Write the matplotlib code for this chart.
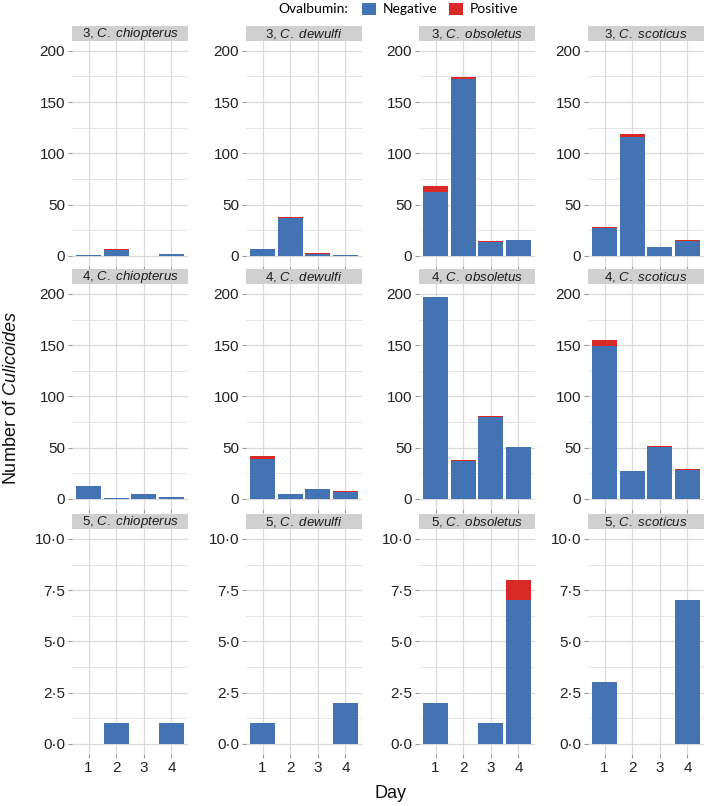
import matplotlib
matplotlib.use("Agg")
import matplotlib.pyplot as plt
from matplotlib.patches import Patch
from matplotlib.ticker import FixedLocator, FuncFormatter

plt.rcParams['font.family'] = ['Liberation Sans', 'DejaVu Sans']
plt.rcParams['mathtext.fontset'] = 'custom'
plt.rcParams['mathtext.rm'] = 'Liberation Sans'
plt.rcParams['mathtext.it'] = 'Liberation Sans:italic'

# ---- data ----
days = [1, 2, 3, 4]
traps = [3, 4, 5]
species = ['C. chiopterus', 'C. dewulfi', 'C. obsoletus', 'C. scoticus']

# rows: species order above, values per day 1..4
neg_trap3 = [[1, 6, 0, 2], [7, 37, 2, 1], [62, 172, 13, 15], [27, 116, 9, 14]]
pos_trap3 = [[0, 1, 0, 0], [0, 1, 1, 0], [6, 2, 1, 0], [1, 3, 0, 1]]
neg_trap4 = [[13, 1, 5, 2], [39, 5, 10, 7], [197, 37, 80, 51], [149, 27, 51, 28]]
pos_trap4 = [[0, 0, 0, 0], [3, 0, 0, 1], [0, 1, 1, 0], [6, 0, 1, 1]]
neg_trap5 = [[0, 1, 0, 1], [1, 0, 0, 2], [2, 0, 1, 7], [3, 0, 0, 7]]
pos_trap5 = [[0, 0, 0, 0], [0, 0, 0, 0], [0, 0, 0, 1], [0, 0, 0, 0]]

neg_all = [neg_trap3, neg_trap4, neg_trap5]
pos_all = [pos_trap3, pos_trap4, pos_trap5]

row_ymax = [200, 200, 10]
row_major = [[0, 50, 100, 150, 200], [0, 50, 100, 150, 200], [0, 2.5, 5, 7.5, 10]]
row_minor = [[25, 75, 125, 175], [25, 75, 125, 175], [1.25, 3.75, 6.25, 8.75]]

NEG_COL = '#4473B3'
POS_COL = '#DA2A27'
GRID_COL = '#DADADA'
STRIP_COL = '#D0D0D0'

W, H = 709, 806
fig = plt.figure(figsize=(W / 100, H / 100), dpi=100)

col_left = [72, 246, 419, 588]
col_w = 116
row_top = [40.5, 283.7, 528.7]
row_h = 225.5
strip_h = 15


def fmt_dot(v, pos):
    return ('%.1f' % v).replace('.', '\u00b7')


for r, trap in enumerate(traps):
    for c, sp in enumerate(species):
        x0 = col_left[c] / W
        y0 = 1 - (row_top[r] + row_h) / H
        ax = fig.add_axes([x0, y0, col_w / W, row_h / H])
        neg = neg_all[r][c]
        pos = pos_all[r][c]
        ax.bar(days, neg, width=0.9, color=NEG_COL, linewidth=0, zorder=3)
        ax.bar(days, pos, width=0.9, bottom=neg, color=POS_COL, linewidth=0, zorder=3)
        ymax = row_ymax[r]
        ax.set_ylim(-0.05 * ymax, 1.05 * ymax)
        ax.set_xlim(0.4, 4.6)
        ax.yaxis.set_major_locator(FixedLocator(row_major[r]))
        ax.yaxis.set_minor_locator(FixedLocator(row_minor[r]))
        ax.xaxis.set_major_locator(FixedLocator(days))
        if r == 2:
            ax.yaxis.set_major_formatter(FuncFormatter(fmt_dot))
            ax.set_xticklabels([str(d) for d in days])
        else:
            ax.set_yticklabels([str(v) for v in row_major[r]])
            ax.set_xticklabels([])
        ax.grid(which='major', color=GRID_COL, linewidth=0.9, zorder=0)
        ax.grid(which='minor', axis='y', color=GRID_COL, linewidth=0.5, zorder=0)
        ax.set_axisbelow(True)
        for s in ax.spines.values():
            s.set_visible(False)
        ax.tick_params(which='major', length=3, color='#999999', labelsize=11, labelcolor='#222222', pad=2)
        ax.tick_params(which='minor', length=0)
        # strip
        sax = fig.add_axes([x0, 1 - row_top[r] / H, col_w / W, strip_h / H])
        sax.set_facecolor(STRIP_COL)
        sax.set_xticks([])
        sax.set_yticks([])
        for s in sax.spines.values():
            s.set_visible(False)
        sp_tex = sp.replace(' ', r'\ ')
        sax.text(0.5, 0.45, r'%d, $\it{%s}$' % (trap, sp_tex), ha='center', va='center',
                 fontsize=9.5, color='#1a1a1a', transform=sax.transAxes)

# axis titles
fig.text(12 / W, 1 - 398 / H, r'Number of $\it{Culicoides}$', rotation=90, ha='center', va='center',
         fontsize=13, color='#111111')
fig.text(390 / W, 1 - 793 / H, 'Day', ha='center', va='center', fontsize=13, color='#111111')

# legend
fig.text(348 / W, 1 - 9 / H, 'Ovalbumin:', ha='right', va='center', fontsize=10, family='Lato')
handles = [Patch(facecolor=NEG_COL, edgecolor='none'), Patch(facecolor=POS_COL, edgecolor='none')]
fig.legend(handles, ['Negative', 'Positive'], ncol=2, loc='center left',
           bbox_to_anchor=(362 / W, 1 - 9 / H), frameon=False, handlelength=1.0, handleheight=1.0,
           handletextpad=0.5, columnspacing=0.8, borderpad=0, borderaxespad=0,
           prop={'family': 'Lato', 'size': 10})

fig.savefig('out.png', dpi=100)
